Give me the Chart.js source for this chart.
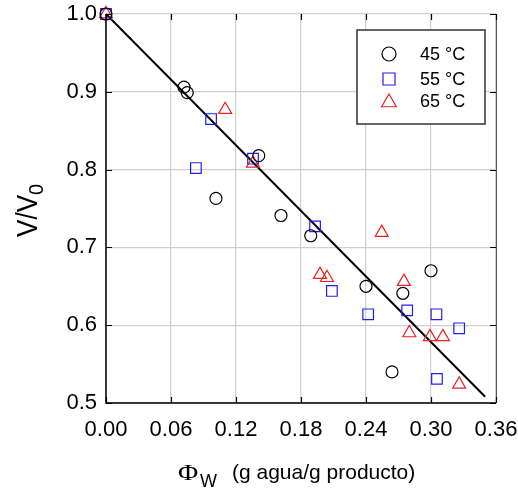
<!DOCTYPE html>
<html>
<head>
<meta charset="utf-8">
<script src="https://cdn.jsdelivr.net/npm/chart.js@4/dist/chart.umd.min.js"></script>
<style>
  html, body { margin: 0; padding: 0; background: #fff; }
  #wrap { width: 518px; height: 491px; }
</style>
</head>
<body>
<div id="wrap"><canvas id="c" width="518" height="491"></canvas></div>
<script>
// ---- data ----
const seriesLabels = ['45 °C', '55 °C', '65 °C'];
const s45x = [0.000, 0.072, 0.075, 0.1015, 0.141, 0.1615, 0.189, 0.240, 0.274, 0.300, 0.264];
const s45y = [1.000, 0.906, 0.899, 0.763, 0.818, 0.741, 0.715, 0.650, 0.641, 0.670, 0.540];
const s55x = [0.000, 0.097, 0.083, 0.1357, 0.193, 0.2085, 0.242, 0.278, 0.305, 0.326, 0.3055];
const s55y = [1.000, 0.865, 0.802, 0.814, 0.727, 0.644, 0.614, 0.619, 0.614, 0.596, 0.531];
const s65x = [0.000, 0.110, 0.1357, 0.1975, 0.204, 0.2545, 0.275, 0.280, 0.299, 0.311, 0.326];
const s65y = [1.000, 0.877, 0.808, 0.665, 0.661, 0.719, 0.656, 0.590, 0.585, 0.585, 0.524];
const fitX = [0.000, 0.350];
const fitY = [1.000, 0.508];
const xTicks = [0.00, 0.06, 0.12, 0.18, 0.24, 0.30, 0.36];
const yTicks = [0.5, 0.6, 0.7, 0.8, 0.9, 1.0];

const FONT = '"Liberation Sans", Arial, sans-serif';
const SERIF = '"Liberation Serif", "Times New Roman", serif';
const pts = (xs, ys) => xs.map((x, i) => ({ x: x, y: ys[i] }));

const markerStyles = [
  { style: 'circle', color: '#000000', radius: 6 },
  { style: 'rect', color: '#2020ee', radius: 7.5 },
  { style: 'triangle', color: '#ee2020', radius: 7.5 }
];

function drawMarker(ctx, style, x, y, r, color) {
  ctx.save();
  ctx.strokeStyle = color;
  ctx.lineWidth = 1.2;
  ctx.beginPath();
  if (style === 'circle') {
    ctx.arc(x, y, r, 0, Math.PI * 2);
  } else if (style === 'rect') {
    const s = r * Math.SQRT1_2;
    ctx.rect(x - s, y - s, 2 * s, 2 * s);
  } else {
    ctx.moveTo(x, y - r);
    ctx.lineTo(x + r * Math.sin(Math.PI / 3), y + r * 0.5);
    ctx.lineTo(x - r * Math.sin(Math.PI / 3), y + r * 0.5);
    ctx.closePath();
  }
  ctx.stroke();
  ctx.restore();
}

const framePlugin = {
  id: 'frame',
  afterDatasetsDraw(chart) {
    const ctx = chart.ctx;
    const a = chart.chartArea;
    const xs = chart.scales.x, ys = chart.scales.y;
    ctx.save();
    ctx.strokeStyle = '#555';
    ctx.lineWidth = 1;
    ctx.beginPath();
    ctx.moveTo(a.right + 0.5, a.top);
    ctx.lineTo(a.right + 0.5, a.bottom);
    ctx.stroke();
    ctx.strokeStyle = '#000';
    ctx.lineWidth = 1.2;
    const tl = 6;
    ctx.beginPath();
    xTicks.forEach(v => {
      const px = Math.round(xs.getPixelForValue(v)) + 0.5;
      ctx.moveTo(px, a.bottom); ctx.lineTo(px, a.bottom - tl);
      ctx.moveTo(px, a.top); ctx.lineTo(px, a.top + tl);
    });
    yTicks.forEach(v => {
      const py = Math.round(ys.getPixelForValue(v)) + 0.5;
      ctx.moveTo(a.left, py); ctx.lineTo(a.left + tl, py);
      ctx.moveTo(a.right, py); ctx.lineTo(a.right - tl, py);
    });
    ctx.stroke();
    ctx.lineWidth = 1.5;
    ctx.beginPath();
    ctx.moveTo(a.left, a.top);
    ctx.lineTo(a.left, a.bottom);
    ctx.lineTo(a.right, a.bottom);
    ctx.stroke();
    ctx.restore();
  },
  afterDraw(chart) {
    const ctx = chart.ctx;
    ctx.save();
    const bx = 357, by = 30, bw = 128, bh = 94;
    ctx.fillStyle = '#fff';
    ctx.fillRect(bx, by, bw, bh);
    ctx.strokeStyle = '#333';
    ctx.lineWidth = 1.5;
    ctx.strokeRect(bx, by, bw, bh);
    const rows = [54, 79, 101];
    ctx.font = '18px ' + FONT;
    ctx.fillStyle = '#000';
    ctx.textBaseline = 'middle';
    ctx.textAlign = 'left';
    seriesLabels.forEach((lab, i) => {
      const m = markerStyles[i];
      const r = i === 0 ? 7 : 8.5;
      drawMarker(ctx, m.style, 389, rows[i] + (i === 2 ? 1.5 : 0), r, m.color);
      ctx.fillText(lab, 420, rows[i] + 1);
    });
    // x axis title
    ctx.textBaseline = 'alphabetic';
    ctx.save();
    ctx.translate(178, 480);
    ctx.scale(1.2, 1);
    ctx.font = '23px ' + SERIF;
    ctx.fillText('\u03A6', 0, 0);
    ctx.restore();
    ctx.font = '18px ' + FONT;
    ctx.fillText('W', 200, 487);
    ctx.font = '21px ' + FONT;
    ctx.fillText('(g agua/g producto)', 232, 479);
    // y axis title
    ctx.save();
    ctx.translate(37, 237);
    ctx.rotate(-Math.PI / 2);
    ctx.scale(0.87, 1);
    ctx.font = '30px ' + FONT;
    ctx.fillText('V/V', 0, 0);
    const w = ctx.measureText('V/V').width;
    ctx.restore();
    ctx.save();
    ctx.translate(43, 237 - w * 0.87);
    ctx.rotate(-Math.PI / 2);
    ctx.font = '20px ' + FONT;
    ctx.fillText('0', 0, 0);
    ctx.restore();
    ctx.restore();
  }
};

new Chart(document.getElementById('c'), {
  type: 'scatter',
  data: {
    datasets: [
      {
        label: 'fit', type: 'line', data: pts(fitX, fitY),
        borderColor: '#000', borderWidth: 2, pointRadius: 0, fill: false, clip: false, order: 5
      },
      ...[[s45x, s45y], [s55x, s55y], [s65x, s65y]].map((s, i) => ({
        label: seriesLabels[i],
        data: pts(s[0], s[1]),
        pointStyle: markerStyles[i].style,
        pointRadius: markerStyles[i].radius,
        pointBorderColor: markerStyles[i].color,
        pointBackgroundColor: 'rgba(0,0,0,0)',
        pointBorderWidth: 1.2,
        showLine: false,
        clip: false,
        order: 1
      }))
    ]
  },
  options: {
    responsive: false,
    animation: false,
    devicePixelRatio: 1,
    layout: { padding: { left: 0, top: 14, right: 22, bottom: 0 } },
    plugins: { legend: { display: false }, tooltip: { enabled: false } },
    scales: {
      x: {
        type: 'linear', min: 0, max: 0.36,
        afterBuildTicks: s => { s.ticks = xTicks.map(v => ({ value: v })); },
        afterFit: s => { s.height = 88; s.paddingLeft = 0; s.paddingRight = 0; },
        grid: { color: '#cfcfcf', lineWidth: 1.2, drawTicks: false },
        border: { display: false },
        ticks: {
          padding: 14, color: '#000', maxRotation: 0,
          font: { family: FONT, size: 22 },
          callback: v => Number(v).toFixed(2)
        }
      },
      y: {
        type: 'linear', min: 0.5, max: 1.0,
        afterBuildTicks: s => { s.ticks = yTicks.map(v => ({ value: v })); },
        afterFit: s => { s.width = 106; s.paddingTop = 0; s.paddingBottom = 0; },
        grid: { color: '#cfcfcf', lineWidth: 1.2, drawTicks: false },
        border: { display: false },
        ticks: {
          padding: 9, color: '#000',
          font: { family: FONT, size: 22 },
          callback: v => Number(v).toFixed(1)
        }
      }
    }
  },
  plugins: [framePlugin]
});
</script>
</body>
</html>
